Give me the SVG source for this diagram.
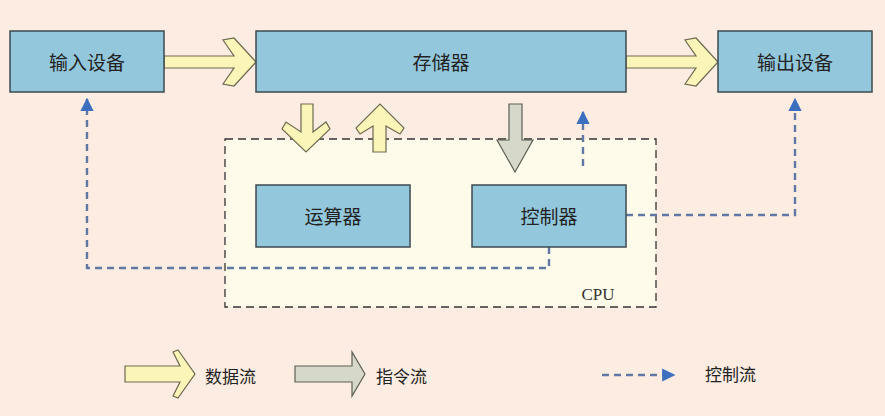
<svg xmlns="http://www.w3.org/2000/svg" width="885" height="416" viewBox="0 0 885 416">
<defs>
<style>
.box{fill:#93c8dc;stroke:#3d4a4f;stroke-width:1.5}
.t{font-family:"Noto Sans CJK SC","Liberation Serif",serif;font-size:19px;fill:#222;text-anchor:middle;dominant-baseline:central}
.lt{font-family:"Noto Sans CJK SC",serif;font-size:17px;fill:#222;dominant-baseline:central}
.data{fill:#fbf6b8;stroke:#6c6a50;stroke-width:1.2}
.ins{fill:#d6d9c9;stroke:#5c5f55;stroke-width:1.2}
.ctl{fill:none;stroke:#5f78a6;stroke-width:2.4;stroke-dasharray:7,5}
</style>
<marker id="ah" viewBox="0 0 10 10" refX="9" refY="5" markerWidth="5.5" markerHeight="5.5" orient="auto"><path d="M0,0L10,5L0,10z" fill="#3d6fbf"/></marker>
</defs>
<rect width="885" height="416" fill="#fcece1"/>
<g id="cpu">
<rect x="225" y="139" width="431" height="168" fill="#fefbea" stroke="#333" stroke-width="1.3" stroke-dasharray="8,5"/>
<text x="598" y="294" font-family="Liberation Serif,serif" font-size="17" fill="#333" text-anchor="middle" dominant-baseline="central">CPU</text>
</g>
<g id="connectors">
<path class="data" d="M164,56H234L223,40L234,38L256,62L234,86L223,84L234,68H164Z"/>
<path class="data" d="M626,56H696L685,40L696,38L718,62L696,86L685,84L696,68H626Z"/>
<path class="data" d="M301,104H313V132L326,122L330,129L306,152L282,129L286,122L301,132Z"/>
<path class="data" d="M373,152H386V126L400,134L404,128L380,104L356,128L360,134L373,126Z"/>
<path class="ins" d="M509,104H522V140H533L515,172L497,140H509Z"/>
<path class="ctl" d="M583,166V112" marker-end="url(#ah)"/>
<path class="ctl" d="M626,215H795V99" marker-end="url(#ah)"/>
<path class="ctl" d="M549,247V268H87V99" marker-end="url(#ah)"/>
</g>
<g id="input"><rect class="box" x="10" y="31" width="154" height="61"/><text class="t" x="87" y="61">输入设备</text></g>
<g id="memory"><rect class="box" x="256" y="31" width="370" height="61"/><text class="t" x="441" y="61">存储器</text></g>
<g id="output"><rect class="box" x="718" y="31" width="154" height="61"/><text class="t" x="795" y="61">输出设备</text></g>
<g id="alu"><rect class="box" x="256" y="185" width="154" height="62"/><text class="t" x="333" y="215">运算器</text></g>
<g id="ctrl"><rect class="box" x="472" y="185" width="154" height="62"/><text class="t" x="549" y="215">控制器</text></g>
<g id="legend">
<path class="data" d="M125,366H180L173,352L178,350L195,374L178,398L173,396L180,382H125Z"/>
<text class="lt" x="205" y="375">数据流</text>
<path class="ins" d="M295,366H352V352L365,374L352,396V382H295Z"/>
<text class="lt" x="376" y="375">指令流</text>
<path class="ctl" d="M602,375H674" marker-end="url(#ah)"/>
<text class="lt" x="705" y="373">控制流</text>
</g>
</svg>
